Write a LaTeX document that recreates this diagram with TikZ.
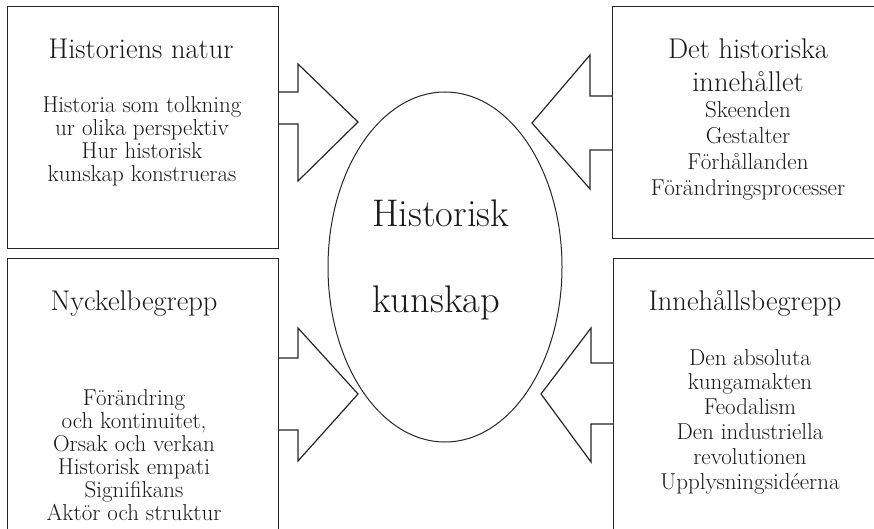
\documentclass[tikz,border=0pt]{standalone}
\usepackage{fontspec}
\usetikzlibrary{shapes.geometric}
\begin{document}
\begin{tikzpicture}[x=1pt,y=-1pt,
  outl/.style={draw=black!85, line width=1.2pt, fill=white, line join=miter},
  ttl/.style={anchor=base, inner sep=0pt, text=black!90, font=\fontsize{28.5}{32}\selectfont},
  bdy/.style={anchor=base, inner sep=0pt, text=black!90, font=\fontsize{23}{25}\selectfont},
  ctr/.style={anchor=base west, inner sep=0pt, text=black!90, font=\fontsize{38.5}{42}\selectfont}]
\useasboundingbox (0,0) rectangle (874,529);
\clip (0,0) rectangle (874,529);
% arrows
\draw[outl] (250,92) -- (298,92) -- (298,64) -- (358,122) -- (298,181) -- (298,124) -- (250,124);
\draw[outl] (640,96) -- (590,96) -- (590,55) -- (532,123) -- (590,189) -- (590,150) -- (640,150);
\draw[outl] (250,358) -- (298,358) -- (298,328) -- (358,394) -- (298,461) -- (298,430) -- (250,430);
\draw[outl] (640,363) -- (591,363) -- (591,328) -- (541,394) -- (591,462) -- (591,424) -- (640,424);
% boxes
\node[outl, rectangle, anchor=north west, minimum width=271, minimum height=242, inner sep=0pt] (boxtl) at (7,6) {};
\node[outl, rectangle, anchor=north west, minimum width=290, minimum height=232, inner sep=0pt] (boxtr) at (612,6) {};
\node[outl, rectangle, anchor=north west, minimum width=271, minimum height=290, inner sep=0pt] (boxbl) at (7,258) {};
\node[outl, rectangle, anchor=north west, minimum width=290, minimum height=290, inner sep=0pt] (boxbr) at (613,258) {};
% ellipse
\node[draw=black!85, line width=1pt, ellipse, minimum width=234, minimum height=350, inner sep=0pt] (core) at (445,267) {};
\node[ctr] (c1) at (372,226) {Historisk};
\node[ctr] (c2) at (372,312) {kunskap};
% top left
\node[ttl] (tlt) at (141,59) {Historiens natur};
\foreach \t [count=\i] in {Historia som tolkning, ur olika perspektiv, Hur historisk, kunskap konstrueras}
  \node[bdy] (tl\i) at (142,{113+23*(\i-1)}) {\t};
% top right
\node[ttl] (trt1) at (748,59) {Det historiska};
\node[ttl] (trt2) at (748,92) {innehållet};
\foreach \t [count=\i] in {Skeenden, Gestalter, Förhållanden, Förändringsprocesser}
  \node[bdy] (tr\i) at (748,{118+26*(\i-1)}) {\t};
% bottom left
\node[ttl] (blt) at (134,310) {Nyckelbegrepp};
\foreach \t [count=\i] in {Förändring, {och kontinuitet,}, Orsak och verkan, Historisk empati, Signifikans, Aktör och struktur}
  \node[bdy] (bl\i) at (134,{405+23*(\i-1)}) {\t};
% bottom right
\node[ttl] (brt) at (745,310) {Innehållsbegrepp};
\foreach \t [count=\i] in {Den absoluta, kungamakten, Feodalism, Den industriella, revolutionen, Upplysningsidéerna}
  \node[bdy] (br\i) at (750,{365+24.8*(\i-1)}) {\t};
\end{tikzpicture}
\end{document}
